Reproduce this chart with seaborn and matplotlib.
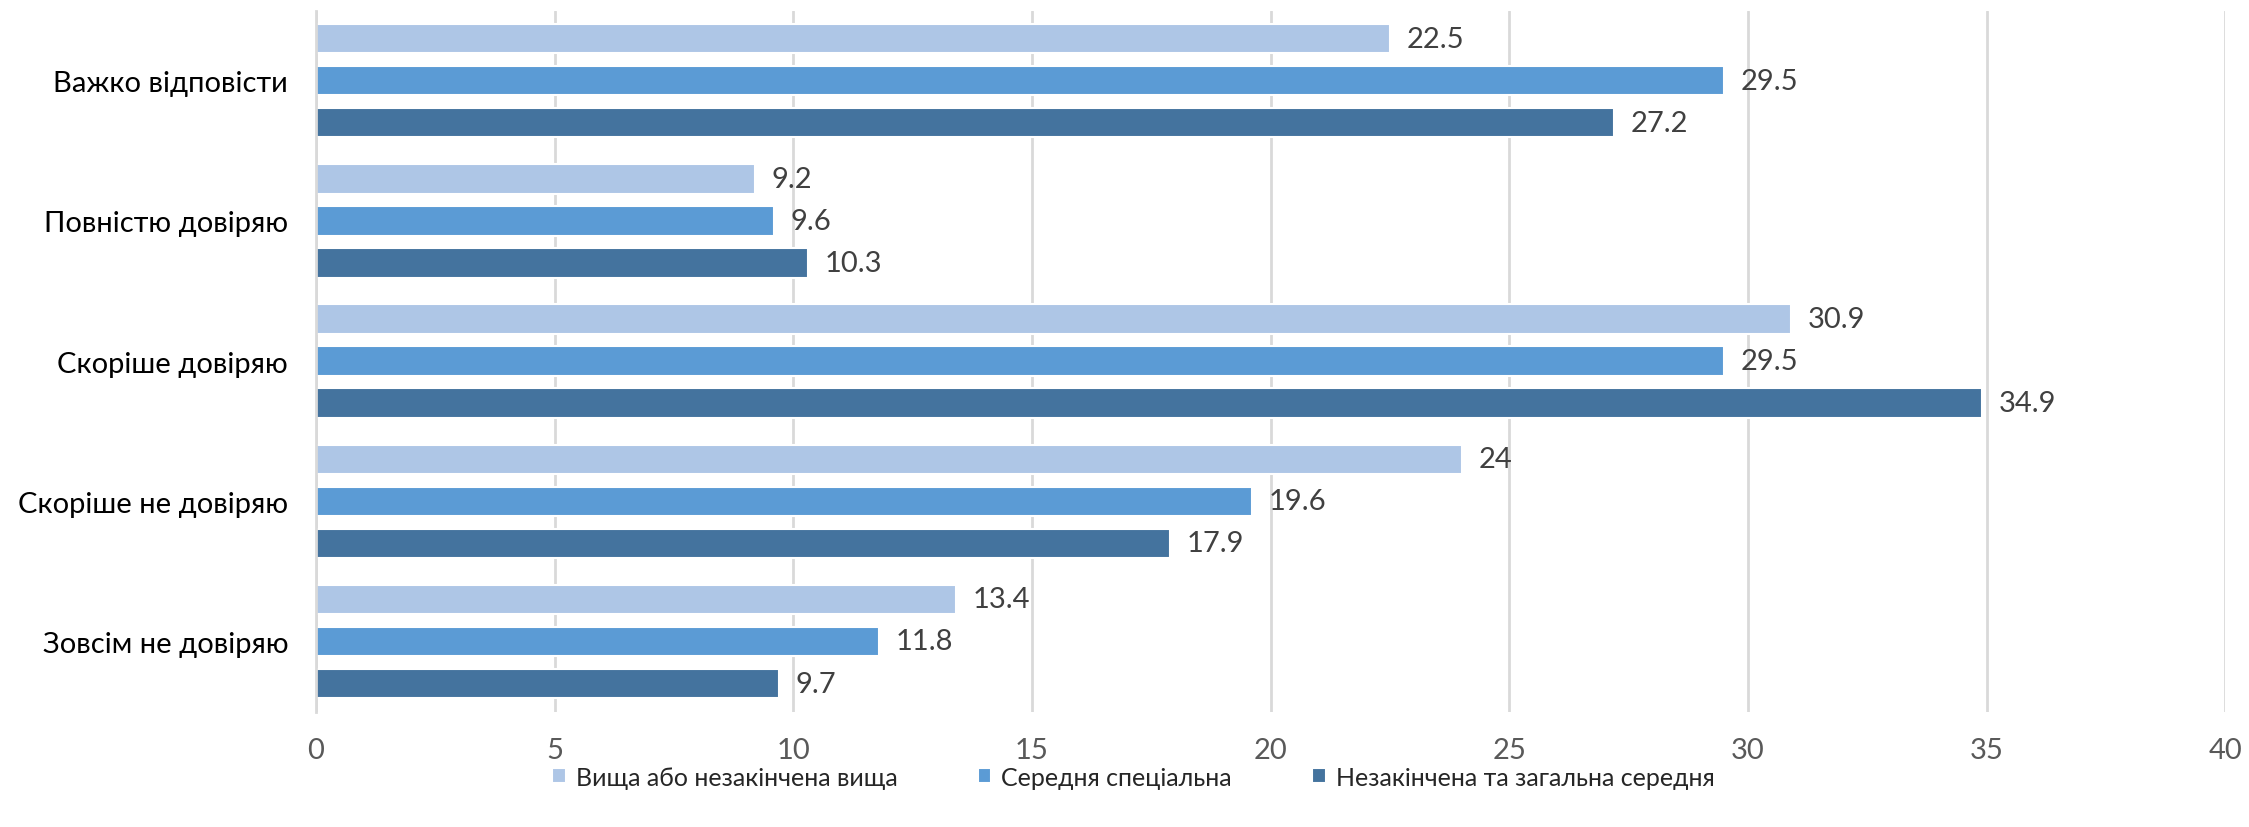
import numpy as np
import pandas as pd
import matplotlib
matplotlib.use("Agg")
import matplotlib.pyplot as plt
import seaborn as sns

# --- DATA ---
categories = ["Важко відповісти", "Повністю довіряю", "Скоріше довіряю",
              "Скоріше не довіряю", "Зовсім не довіряю"]
series_names = ["Вища або незакінчена вища", "Середня спеціальна",
                "Незакінчена та загальна середня"]
higher = [22.5, 9.2, 30.9, 24, 13.4]
special = [29.5, 9.6, 29.5, 19.6, 11.8]
general = [27.2, 10.3, 34.9, 17.9, 9.7]
x_ticks = [0, 5, 10, 15, 20, 25, 30, 35, 40]

colors = ["#AEC6E6", "#5B9BD5", "#44739E"]

df = pd.DataFrame({
    "category": categories * 3,
    "series": [s for s in series_names for _ in categories],
    "value": higher + special + general,
})

sns.set_theme(style="white")
plt.rcParams["font.family"] = ["Lato", "Open Sans", "DejaVu Sans"]

fig = plt.figure(figsize=(22.49, 8.28), dpi=100)
ax = fig.add_axes([0.1405, 0.1394, 0.849, 0.8466])

sns.barplot(data=df, x="value", y="category", hue="series", order=categories,
            hue_order=series_names, palette=colors, saturation=1, orient="h",
            width=0.9, gap=0.3, edgecolor="white", linewidth=1.5, ax=ax,
            legend=True)

ax.set_xlim(0, 40)
ax.set_xticks(x_ticks)
ax.set_ylim(4.5, -0.5)
ax.grid(axis="x", color="#D9D9D9", linewidth=2)
ax.set_axisbelow(True)
for s in ["top", "right", "bottom"]:
    ax.spines[s].set_visible(False)
ax.spines["left"].set_color("#D9D9D9")
ax.spines["left"].set_linewidth(2)
ax.set_xlabel("")
ax.set_ylabel("")
ax.tick_params(axis="x", labelsize=21, colors="#595959", length=0, pad=18)
ax.tick_params(axis="y", labelsize=21, colors="#000000", length=0, pad=20)

for cont in ax.containers:
    labels = [f"{v:g}" for v in cont.datavalues]
    ax.bar_label(cont, labels=labels, padding=12, fontsize=21, color="#404040")

handles, labels = ax.get_legend_handles_labels()
ax.legend(handles, labels, loc="upper center", bbox_to_anchor=(0.428, -0.045),
          ncol=3, frameon=False, fontsize=18, handlelength=0.55, handleheight=0.55,
          columnspacing=3.2, handletextpad=0.4)

fig.savefig("out.png", dpi=100)
